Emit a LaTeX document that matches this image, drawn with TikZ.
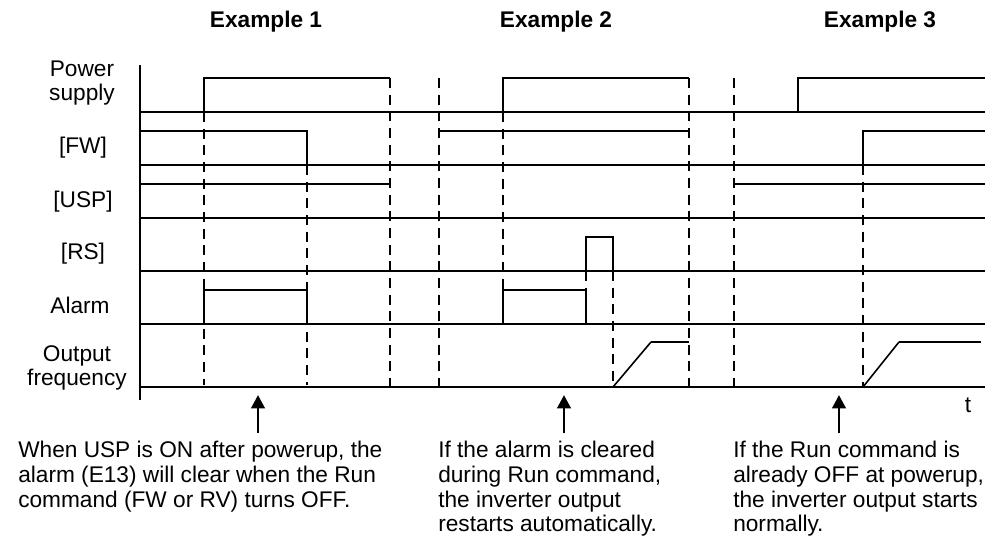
\documentclass[tikz,border=0pt]{standalone}
\usepackage{fontspec}
\setmainfont{Liberation Sans}
\usetikzlibrary{arrows.meta}
\begin{document}
\begin{tikzpicture}[x=0.75pt,y=-0.75pt,
  sig/.style={line width=2.2pt,line join=miter},
  base/.style={line width=1.2pt},
  ramp/.style={line width=1.2pt},
  guide/.style={line width=1.5pt,dash pattern=on 7.5pt off 5pt},
  lbl/.style={font=\fontsize{17}{18.5}\selectfont,align=center,inner sep=0pt},
  ttl/.style={font=\fontsize{17}{18.5}\selectfont\bfseries,inner sep=0pt},
  note/.style={font=\fontsize{17}{18.5}\selectfont,align=left,anchor=north west,inner sep=0pt},
  pointer/.style={line width=2.2pt,-{Triangle[width=10pt,length=10pt]}}]
\useasboundingbox (0,0) rectangle (1004,544);
% titles
\node[ttl] (t1) at (266,22) {Example 1};
\node[ttl] (t2) at (556,22) {Example 2};
\node[ttl] (t3) at (880,22) {Example 3};
% row labels
\node[lbl] (lpow) at (82,83) {Power\\supply};
\node[lbl] (lfw) at (83,148) {[FW]};
\node[lbl] (lusp) at (83,202) {[USP]};
\node[lbl] (lrs) at (83,254) {[RS]};
\node[lbl] (lal) at (80,305) {Alarm};
\node[lbl] (lout) at (77,368) {Output\\frequency};
\node[lbl] (lt) at (968,405) {t};
% axis
\draw[line width=2.2pt] (140,65) -- (140,400);
% baselines
\foreach \y in {112,165,218,271,324,387} \draw[base] (140,\y) -- (985,\y);
% guides
\draw[guide] (204,112) -- (204,385);
\draw[guide] (307,165) -- (307,385);
\draw[guide] (390,78) -- (390,387);
\draw[guide] (439,78) -- (439,387);
\draw[guide] (503,112) -- (503,290);
\draw[guide] (586,271) -- (586,290);
\draw[guide] (613,271) -- (613,387);
\draw[guide] (689,78) -- (689,387);
\draw[guide] (734,78) -- (734,387);
\draw[guide] (863,165) -- (863,387);
% Example 1
\draw[sig] (140,112) -- (204,112) -- (204,78) -- (390,78);
\draw[sig] (140,131) -- (307,131) -- (307,165) -- (390,165);
\draw[sig] (140,184) -- (390,184);
\draw[sig] (140,271) -- (390,271);
\draw[sig] (140,324) -- (204,324) -- (204,290) -- (307,290) -- (307,324) -- (390,324);
\draw[sig] (140,387) -- (390,387);
% Example 2
\draw[sig] (439,112) -- (503,112) -- (503,78) -- (689,78);
\draw[sig] (439,131) -- (689,131);
\draw[sig] (439,218) -- (689,218);
\draw[sig] (439,271) -- (586,271) -- (586,237) -- (613,237) -- (613,271) -- (689,271);
\draw[sig] (439,324) -- (503,324) -- (503,290) -- (586,290) -- (586,324) -- (689,324);
\draw[sig] (439,387) -- (613,387);
\draw[ramp] (613,387) -- (651,342);
\draw[sig] (651,342) -- (689,342);
% Example 3
\draw[sig] (734,112) -- (798,112) -- (798,78) -- (985,78);
\draw[sig] (734,165) -- (863,165) -- (863,131) -- (985,131);
\draw[sig] (734,184) -- (985,184);
\draw[sig] (734,271) -- (985,271);
\draw[sig] (734,324) -- (985,324);
\draw[sig] (734,387) -- (863,387);
\draw[ramp] (863,387) -- (899,342);
\draw[sig] (899,342) -- (981,342);
% notes
\node[note] (n1) at (18,441) {When USP is ON after powerup, the\\alarm (E13) will clear when the Run\\command (FW or RV) turns OFF.};
\node[note] (n2) at (438,441) {If the alarm is cleared\\during Run command,\\the inverter output\\restarts automatically.};
\node[note] (n3) at (733,441) {If the Run command is\\already OFF at powerup,\\the inverter output starts\\normally.};
% pointers
\coordinate (p1) at (258,395);
\coordinate (p2) at (564,395);
\coordinate (p3) at (839,395);
\draw[pointer] (258,433) -- (p1);
\draw[pointer] (564,433) -- (p2);
\draw[pointer] (839,433) -- (p3);
\end{tikzpicture}
\end{document}
